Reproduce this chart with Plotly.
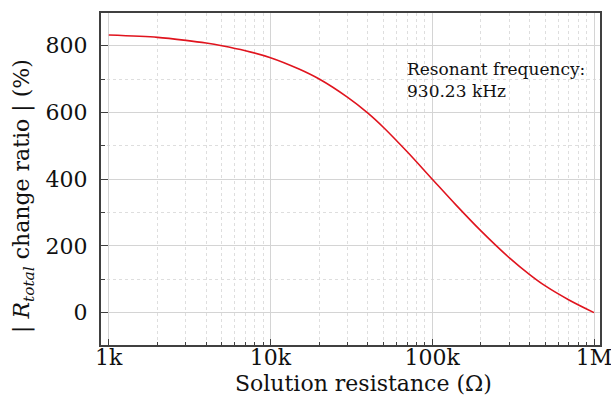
import plotly.graph_objects as go

# Data
resistance = [1000, 2000, 3000, 4000, 5000, 7000, 10000, 15000, 20000, 30000, 40000,
              50000, 70000, 100000, 140000, 200000, 300000, 400000, 500000, 700000, 1000000]
change_ratio = [832, 825, 816, 808, 800, 785, 764, 730, 700, 645, 598,
                555, 482, 400, 323, 245, 164, 114, 80, 38, 0]

x_tickvals = [1e3, 1e4, 1e5, 1e6]
x_ticktext = ["1k", "10k", "100k", "1M"]
y_tickvals = [0, 200, 400, 600, 800]

FONT = "DejaVu Serif"
FRAME = "#404040"
TXT = "#111111"

minor_x = [m * 10 ** e for e in range(3, 6) for m in range(2, 10)]

fig = go.Figure()
fig.add_trace(go.Scatter(
    x=resistance, y=change_ratio, mode="lines",
    line=dict(color="#e0141e", width=1.6, shape="spline", smoothing=0.8),
    showlegend=False, hoverinfo="skip"))

W, H = 611, 407
L, R, T, B = 101, 11, 13, 62
pw, ph = W - L - R, H - T - B

def px_x(p):
    return (p - L) / pw

def px_y(p):
    return (H - B - p) / ph

fig.update_layout(
    width=W, height=H, autosize=False,
    margin=dict(l=L, r=R, t=T, b=B, pad=0),
    paper_bgcolor="white", plot_bgcolor="white",
    font=dict(family=FONT, color=TXT),
    xaxis=dict(
        type="log", range=[2.952, 6.037], automargin=False,
        tickmode="array", tickvals=x_tickvals, ticktext=x_ticktext,
        ticks="inside", ticklen=6, tickwidth=1.3, tickcolor=FRAME,
        showline=True, linecolor=FRAME, linewidth=2, mirror=True,
        showgrid=True, gridcolor="#d4d4d4", gridwidth=1,
        tickfont=dict(family=FONT, size=22, color=TXT),
        ticklabelstandoff=-8, ticklabeloverflow="allow",
        minor=dict(tickmode="array", tickvals=minor_x, ticks="inside", ticklen=3,
                   tickwidth=1, tickcolor=FRAME, showgrid=True,
                   gridcolor="#dedede", griddash="dot", gridwidth=1),
        zeroline=False,
    ),
    yaxis=dict(
        range=[-97, 898], automargin=False,
        tickmode="array", tickvals=y_tickvals,
        ticks="inside", ticklen=7, tickwidth=1.3, tickcolor=FRAME,
        showline=True, linecolor=FRAME, linewidth=2, mirror=True,
        showgrid=True, gridcolor="#d4d4d4", gridwidth=1,
        tickfont=dict(family=FONT, size=22, color=TXT),
        ticklabelstandoff=7,
        minor=dict(tickmode="array", tickvals=[100, 300, 500, 700], ticks="inside",
                   ticklen=4, tickwidth=1, tickcolor=FRAME, showgrid=True,
                   gridcolor="#dedede", griddash="dot", gridwidth=1),
        zeroline=False,
    ),
    annotations=[
        dict(text="Solution resistance (Ω)", xref="paper", yref="paper",
             x=px_x(363), y=px_y(369), xanchor="center", yanchor="top",
             showarrow=False, font=dict(family=FONT, size=22, color=TXT)),
        dict(text="| <i>R</i><sub><i>total</i></sub> change ratio | (%)",
             xref="paper", yref="paper", x=px_x(23), y=px_y(196),
             xanchor="center", yanchor="middle", textangle=-90,
             showarrow=False, font=dict(family=FONT, size=22, color=TXT)),
        dict(text="Resonant frequency:<br>930.23 kHz", xref="paper", yref="paper",
             x=px_x(405), y=px_y(57), xanchor="left", yanchor="top", align="left",
             showarrow=False, font=dict(family=FONT, size=17, color=TXT)),
    ],
)

fig.write_html("out.html")
